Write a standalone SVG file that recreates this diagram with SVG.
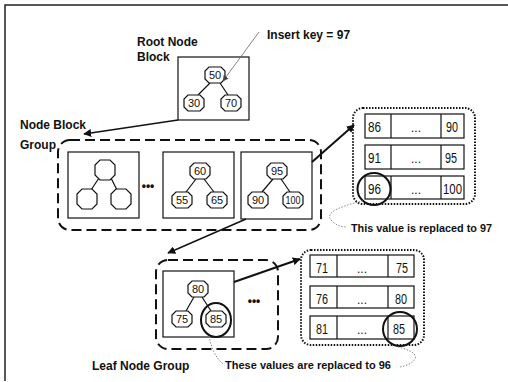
<svg xmlns="http://www.w3.org/2000/svg" width="508" height="382" viewBox="0 0 508 382">
<style>
.lbl{font-family:"Liberation Sans",Arial,sans-serif;font-weight:bold;font-size:12px;fill:#111}
.cap{font-family:"Liberation Sans",Arial,sans-serif;font-weight:bold;font-size:11px;fill:#111}
.num{font-family:"Liberation Sans",Arial,sans-serif;font-size:11px;fill:#111;text-anchor:middle}
.cell{font-family:"Liberation Sans",Arial,sans-serif;font-size:14px;fill:#111}
.dots{font-family:"Liberation Sans",Arial,sans-serif;font-size:12px;fill:#111;text-anchor:middle}
.blk{fill:#fff;stroke:#111;stroke-width:1.2}
.oct{fill:#fff;stroke:#111;stroke-width:1.2}
.edge{stroke:#111;stroke-width:1.2;fill:none}
.dash{fill:none;stroke:#111;stroke-width:2;stroke-dasharray:10 5}
.dot{fill:none;stroke:#111;stroke-width:2;stroke-dasharray:1.5 1.5}
.row{fill:#fff;stroke:#111;stroke-width:1.2}
.hl{fill:none;stroke:#111;stroke-width:2}
.note{fill:none;stroke:#888;stroke-width:1;stroke-dasharray:1.5 1.5}
.conn{fill:none;stroke:#111;stroke-width:1.4}
.conn2{fill:none;stroke:#111;stroke-width:2}
.thin{fill:none;stroke:#666;stroke-width:0.8}
</style>
<defs>
<polygon id="o" points="-6,-8 6,-8 10,-4 10,4 6,8 -6,8 -10,4 -10,-4"/>
<polygon id="ob" points="-5,-10 5,-10 10,-5 10,5 5,10 -5,10 -10,5 -10,-5"/>
<marker id="ah" viewBox="0 0 10 10" refX="9" refY="5" markerWidth="8" markerHeight="8" markerUnits="userSpaceOnUse" orient="auto">
<path d="M0,0 L10,5 L0,10 Z" fill="#111"/>
</marker>
<marker id="ahs" viewBox="0 0 10 10" refX="9" refY="5" markerWidth="6" markerHeight="6" markerUnits="userSpaceOnUse" orient="auto">
<path d="M0,0 L10,5 L0,10 Z" fill="#444"/>
</marker>
</defs>

<path d="M5,381 V5 H508" fill="none" stroke="#222" stroke-width="1.5"/>

<g id="labels">
<text class="lbl" x="137" y="46">Root Node</text>
<text class="lbl" x="137" y="61">Block</text>
<text class="lbl" x="267" y="39">Insert key = 97</text>
<text class="lbl" x="20" y="129">Node Block</text>
<text class="lbl" x="20" y="149">Group</text>
<text class="lbl" x="92" y="370">Leaf Node Group</text>
<text class="cap" x="351" y="232" textLength="141" lengthAdjust="spacingAndGlyphs">This value is replaced to 97</text>
<text class="cap" x="225" y="369" textLength="166" lengthAdjust="spacingAndGlyphs">These values are replaced to 96</text>
</g>

<g id="root-block">
<rect class="blk" x="178" y="57" width="71" height="63"/>
<path class="edge" d="M210,83 L198,95 M220,83 L228,95"/>
<use href="#o" class="oct" x="215" y="75"/>
<use href="#o" class="oct" x="194" y="103"/>
<use href="#o" class="oct" x="231" y="103"/>
<text class="num" x="215" y="79">50</text>
<text class="num" x="194" y="107">30</text>
<text class="num" x="231" y="107">70</text>
</g>

<g id="node-block-group">
<rect class="dash" x="58" y="140" width="263" height="90" rx="12"/>
<text class="dots" x="148" y="190" font-weight="bold">•••</text>
</g>

<g id="block-1">
<rect class="blk" x="68" y="152" width="71" height="66"/>
<path class="edge" d="M99,178 L91,190 M111,178 L117,190"/>
<path d="M100,179 H110" stroke="#111" stroke-width="2"/>
<use href="#ob" class="oct" x="105" y="170"/>
<use href="#ob" class="oct" x="87" y="199"/>
<use href="#ob" class="oct" x="121" y="199"/>
</g>

<g id="block-2">
<rect class="blk" x="163" y="152" width="71" height="66"/>
<path class="edge" d="M196,179 L186,192 M204,179 L214,192"/>
<use href="#o" class="oct" x="200" y="171"/>
<use href="#o" class="oct" x="182" y="200"/>
<use href="#o" class="oct" x="217" y="200"/>
<text class="num" x="200" y="175">60</text>
<text class="num" x="182" y="204">55</text>
<text class="num" x="217" y="204">65</text>
</g>

<g id="block-3">
<rect class="blk" x="241" y="152" width="71" height="67"/>
<path class="edge" d="M273,179 L262,192 M281,179 L290,192"/>
<use href="#o" class="oct" x="277" y="171"/>
<use href="#o" class="oct" x="258" y="200"/>
<use href="#o" class="oct" x="293" y="200"/>
<text class="num" x="277" y="175">95</text>
<text class="num" x="258" y="204">90</text>
<text class="num" x="293" y="204" textLength="15" lengthAdjust="spacingAndGlyphs">100</text>
</g>

<g id="data-table-1">
<rect class="dot" x="353" y="108" width="122" height="96" rx="10"/>
<rect class="row" x="365" y="114" width="99" height="24"/>
<path class="edge" d="M391,114 V138 M441,114 V138"/>
<rect class="row" x="365" y="145" width="99" height="24"/>
<path class="edge" d="M391,145 V169 M441,145 V169"/>
<rect class="row" x="365" y="176" width="99" height="23"/>
<path class="edge" d="M391,176 V199 M441,176 V199"/>
<text class="cell" x="368" y="132" textLength="13" lengthAdjust="spacingAndGlyphs">86</text>
<text class="dots" x="416" y="132">...</text>
<text class="cell" x="446" y="132" textLength="12" lengthAdjust="spacingAndGlyphs">90</text>
<text class="cell" x="368" y="163" textLength="13" lengthAdjust="spacingAndGlyphs">91</text>
<text class="dots" x="416" y="163">...</text>
<text class="cell" x="445" y="163" textLength="12" lengthAdjust="spacingAndGlyphs">95</text>
<text class="cell" x="368" y="194" textLength="13" lengthAdjust="spacingAndGlyphs">96</text>
<text class="dots" x="416" y="194">...</text>
<text class="cell" x="443" y="194" textLength="19" lengthAdjust="spacingAndGlyphs">100</text>
<ellipse class="hl" cx="374" cy="189" rx="16.5" ry="16"/>
</g>

<g id="leaf-node-group">
<rect class="dash" x="156" y="260" width="122" height="89" rx="12"/>
<text class="dots" x="254" y="305" font-weight="bold">•••</text>
</g>

<g id="leaf-block">
<rect class="blk" x="163" y="271" width="71" height="66"/>
<path class="edge" d="M194,297 L186,311 M202,297 L211,311"/>
<use href="#o" class="oct" x="198" y="289"/>
<use href="#o" class="oct" x="182" y="319"/>
<use href="#o" class="oct" x="216" y="319"/>
<text class="num" x="198" y="293">80</text>
<text class="num" x="182" y="323">75</text>
<text class="num" x="216" y="323">85</text>
<ellipse class="hl" cx="216" cy="320" rx="15" ry="17"/>
</g>

<g id="data-table-2">
<rect class="dot" x="301" y="250" width="123" height="95" rx="10"/>
<rect class="row" x="310" y="255" width="104" height="22"/>
<path class="edge" d="M337,255 V277 M388,255 V277"/>
<rect class="row" x="310" y="286" width="104" height="22"/>
<path class="edge" d="M337,286 V308 M388,286 V308"/>
<rect class="row" x="310" y="316" width="104" height="23"/>
<path class="edge" d="M337,316 V339 M388,316 V339"/>
<text class="cell" x="316" y="273" textLength="12" lengthAdjust="spacingAndGlyphs">71</text>
<text class="dots" x="362" y="273">...</text>
<text class="cell" x="396" y="273" textLength="12" lengthAdjust="spacingAndGlyphs">75</text>
<text class="cell" x="316" y="304" textLength="12" lengthAdjust="spacingAndGlyphs">76</text>
<text class="dots" x="362" y="304">...</text>
<text class="cell" x="395" y="304" textLength="12" lengthAdjust="spacingAndGlyphs">80</text>
<text class="cell" x="316" y="334" textLength="12" lengthAdjust="spacingAndGlyphs">81</text>
<text class="dots" x="362" y="334">...</text>
<text class="cell" x="393" y="334" textLength="12" lengthAdjust="spacingAndGlyphs">85</text>
<ellipse class="hl" cx="400" cy="329" rx="17" ry="17"/>
</g>

<g id="connectors">
<path class="thin" d="M259,32 L223,81" marker-end="url(#ahs)"/>
<path class="conn" d="M178,120 L84,134" marker-end="url(#ah)"/>
<path class="conn2" d="M312,162 L354,125" marker-end="url(#ah)"/>
<path class="conn" d="M246,219 L168,253" marker-end="url(#ah)"/>
<path class="conn2" d="M234,282 L300,259" marker-end="url(#ah)"/>
<path class="note" d="M363,201 C345,205 322,212 332,221 C336,225 341,227 346,227"/>
<path class="note" d="M209,336 C212,350 216,358 223,364"/>
<path class="note" d="M398,347 C405,349 418,352 415,359 C413,363 406,366 400,367"/>
</g>
</svg>
